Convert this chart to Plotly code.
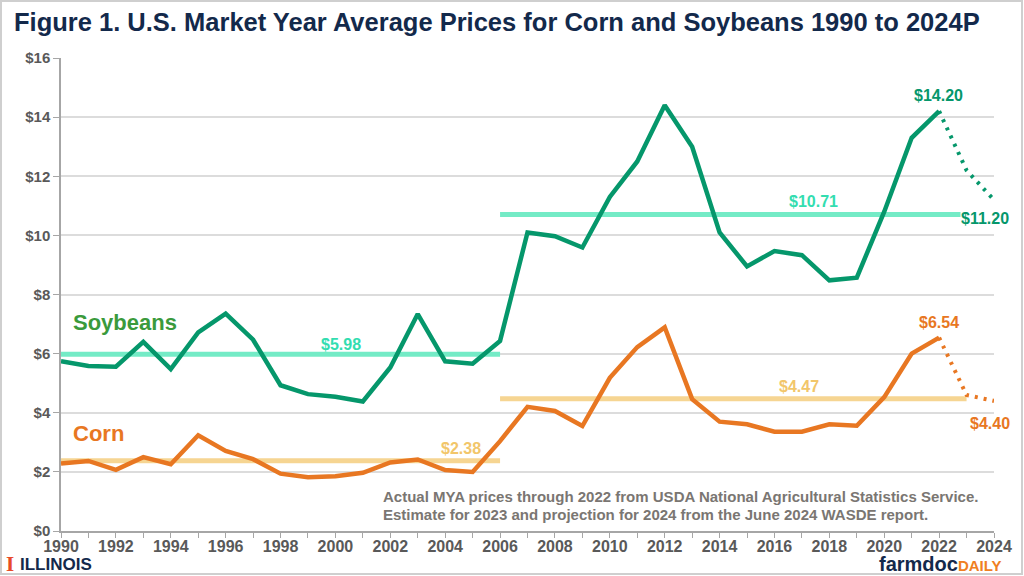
import plotly.graph_objects as go

# ---------------- data ----------------
years = list(range(1990, 2023))
soy_actual = [5.74, 5.58, 5.56, 6.40, 5.48, 6.72, 7.35, 6.47, 4.93, 4.63, 4.54, 4.38,
              5.53, 7.34, 5.74, 5.66, 6.43, 10.10, 9.97, 9.59, 11.30, 12.50, 14.40,
              13.00, 10.10, 8.95, 9.47, 9.33, 8.48, 8.57, 10.80, 13.30, 14.20]
corn_actual = [2.28, 2.37, 2.07, 2.50, 2.26, 3.24, 2.71, 2.43, 1.94, 1.82, 1.85, 1.97,
               2.32, 2.42, 2.06, 2.00, 3.04, 4.20, 4.06, 3.55, 5.18, 6.22, 6.89,
               4.46, 3.70, 3.61, 3.36, 3.36, 3.61, 3.56, 4.53, 6.00, 6.54]
proj_years = [2022, 2023, 2024]
soy_proj = [14.20, 12.20, 11.20]
corn_proj = [6.54, 4.60, 4.40]

period_bounds = [1990, 2006, 2023]
soy_avg = [5.98, 10.71]
corn_avg = [2.38, 4.47]

title = "Figure 1. U.S. Market Year Average Prices for Corn and Soybeans 1990 to 2024P"
note1 = "Actual MYA prices through 2022 from USDA National Agricultural Statistics Service."
note2 = "Estimate for 2023 and projection for 2024 from the June 2024 WASDE report."

# ---------------- colours ----------------
SOY = "#05976B"
SOY_AVG = "#74EBC6"
SOY_AVG_TXT = "#33DDB0"
SOY_LBL = "#3A9A3C"
CORN = "#E87722"
CORN_AVG = "#F6D592"
CORN_AVG_TXT = "#F2C66A"
NAVY = "#13294B"
GREY = "#595959"

FONT = "Liberation Sans, Arial, sans-serif"


def avg_xy(vals):
    xs, ys = [], []
    for i, v in enumerate(vals):
        if i:
            xs.append(None)
            ys.append(None)
        xs += [period_bounds[i], period_bounds[i + 1]]
        ys += [v, v]
    return xs, ys


fig = go.Figure()
sx, sy = avg_xy(soy_avg)
cx, cy = avg_xy(corn_avg)
fig.add_trace(go.Scatter(x=sx, y=sy, mode="lines", line=dict(color=SOY_AVG, width=5),
                         connectgaps=False, hoverinfo="skip"))
fig.add_trace(go.Scatter(x=cx, y=cy, mode="lines", line=dict(color=CORN_AVG, width=5),
                         connectgaps=False, hoverinfo="skip"))
fig.add_trace(go.Scatter(x=years, y=soy_actual, mode="lines", line=dict(color=SOY, width=4.5)))
fig.add_trace(go.Scatter(x=years, y=corn_actual, mode="lines", line=dict(color=CORN, width=4.5)))
fig.add_trace(go.Scatter(x=proj_years, y=soy_proj, mode="lines",
                         line=dict(color=SOY, width=4, dash="3px,6px")))
fig.add_trace(go.Scatter(x=proj_years, y=corn_proj, mode="lines",
                         line=dict(color=CORN, width=4, dash="3px,6px")))

ann = []


def lab(text, x, y, color, size=16, xanchor="center", **kw):
    ann.append(dict(text="<b>%s</b>" % text, x=x, y=y, xref="x", yref="y", showarrow=False,
                    xanchor=xanchor, yanchor="middle", font=dict(family=FONT, size=size, color=color), **kw))


lab("$%.2f" % soy_avg[0], 2000.22, 6.32, SOY_AVG_TXT)
lab("$%.2f" % corn_avg[0], 2004.56, 2.78, CORN_AVG_TXT)
lab("$%.2f" % soy_avg[1], 2017.44, 11.16, SOY_AVG_TXT)
lab("$%.2f" % corn_avg[1], 2016.88, 4.88, CORN_AVG_TXT)
lab("$%.2f" % soy_proj[0], 2021.96, 14.72, SOY)
lab("$%.2f" % soy_proj[-1], 2023.67, 10.57, SOY, bgcolor="white", borderpad=0)
lab("$%.2f" % corn_proj[0], 2021.98, 7.06, CORN)
lab("$%.2f" % corn_proj[-1], 2023.86, 3.62, CORN)
lab("Soybeans", 1990.35, 7.05, SOY_LBL, size=22, xanchor="left")
lab("Corn", 1990.35, 3.29, CORN, size=22, xanchor="left")

# footnote / layout geometry
W, H = 1024, 576
L, R, T, B = 61, 30, 58, 45
pw, ph = W - L - R, H - T - B


def px(x):
    return (x - L) / pw


def py(y):
    return (H - B - y) / ph


for txt, yy in ((note1, 496), (note2, 514)):
    ann.append(dict(text="<b>%s</b>" % txt, x=px(381), y=py(yy), xref="paper", yref="paper",
                    xanchor="left", yanchor="middle", showarrow=False,
                    font=dict(family=FONT, size=15, color="#7A7672")))
# logos
ann.append(dict(text="<b>I</b>", x=px(5), y=py(564), xref="paper", yref="paper",
                xanchor="left", yanchor="middle", showarrow=False, borderpad=0,
                font=dict(family="Liberation Serif, serif", size=21, color="#E84A27")))
ann.append(dict(text="<b>ILLINOIS</b>", x=px(19), y=py(564), xref="paper", yref="paper",
                xanchor="left", yanchor="middle", showarrow=False, borderpad=0,
                font=dict(family=FONT, size=17, color=NAVY)))
ann.append(dict(text="<b><span style='font-size:20px;color:%s'>farmdoc</span>"
                     "<span style='font-size:15px;color:#F07F22'>DAILY</span></b>" % NAVY,
                x=px(1003), y=py(564), xref="paper", yref="paper",
                xanchor="right", yanchor="middle", showarrow=False, borderpad=0,
                font=dict(family=FONT, size=20, color=NAVY)))

fig.update_layout(
    width=W, height=H,
    margin=dict(l=L, r=R, t=T, b=B),
    paper_bgcolor="white", plot_bgcolor="white",
    showlegend=False,
    title=dict(text="<b>%s</b>" % title, x=14 / W, xanchor="left", y=1 - 22 / H, yanchor="middle",
               font=dict(family=FONT, size=25.5, color=NAVY)),
    annotations=ann,
    shapes=[dict(type="rect", xref="paper", yref="paper",
                 x0=px(1), x1=px(1022), y0=py(574), y1=py(1),
                 line=dict(color="#CFCFCF", width=2))],
)
fig.update_xaxes(range=[1990, 2024], dtick=2, tick0=1990, showgrid=False, tickformat="d",
                 showline=True, linecolor="#A6A6A6", linewidth=1.5,
                 ticks="outside", ticklen=5, tickcolor="#A6A6A6", ticklabelstandoff=-5,
                 minor=dict(dtick=1, ticks="outside", ticklen=5, tickcolor="#A6A6A6"),
                 tickfont=dict(family=FONT, size=16, color=GREY, weight="bold"), zeroline=False)
fig.update_yaxes(range=[0, 16], dtick=2, tickprefix="$", tickformat=".0f",
                 showgrid=True, gridcolor="#DCDCDC",
                 gridwidth=1.5, showline=True, linecolor="#A6A6A6", linewidth=1.5,
                 ticks="outside", ticklen=6, tickcolor="#A6A6A6",
                 tickfont=dict(family=FONT, size=15, color=GREY, weight="bold"), zeroline=False)
fig.write_html("out.html", config={"displayModeBar": False},
               post_script="document.body.style.margin='0';document.body.style.overflow='hidden';")
